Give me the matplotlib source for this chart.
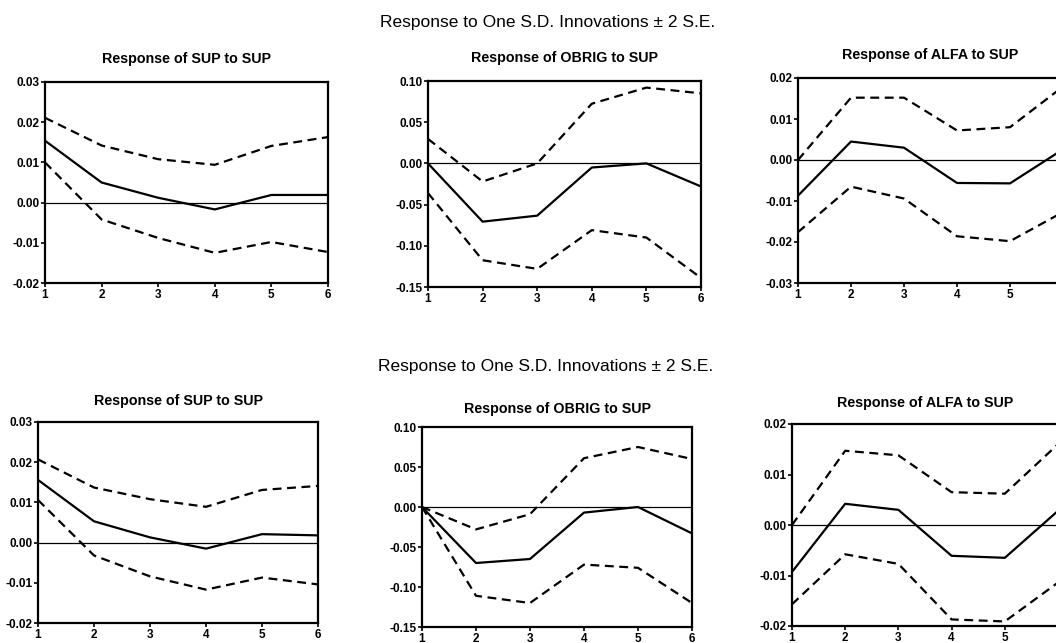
import numpy as np
import matplotlib
matplotlib.use('Agg')
import matplotlib.pyplot as plt

plt.rcParams['font.family'] = ['Liberation Sans', 'DejaVu Sans']
plt.rcParams['font.weight'] = 'bold'

periods = [1, 2, 3, 4, 5, 6]
suptitle = 'Response to One S.D. Innovations \u00b1 2 S.E.'
titles = ['Response of SUP to SUP', 'Response of OBRIG to SUP', 'Response of ALFA to SUP']

# top block
sup_a = [0.0154, 0.0050, 0.0012, -0.0017, 0.0019, 0.0019]
sup_a_hi = [0.0211, 0.0142, 0.0108, 0.0094, 0.0141, 0.0163]
sup_a_lo = [0.0100, -0.0042, -0.0088, -0.0125, -0.0098, -0.0123]
obrig_a = [0.0, -0.0707, -0.0634, -0.0050, 0.0, -0.0280]
obrig_a_hi = [0.0297, -0.0220, 0.0, 0.0724, 0.0920, 0.0850]
obrig_a_lo = [-0.0360, -0.1175, -0.1280, -0.0810, -0.0900, -0.1390]
alfa_a = [-0.0087, 0.0045, 0.0030, -0.0056, -0.0057, 0.0026]
alfa_a_hi = [0.0, 0.0152, 0.0152, 0.0072, 0.0080, 0.0179]
alfa_a_lo = [-0.0176, -0.0065, -0.0094, -0.0186, -0.0198, -0.0127]

# bottom block
sup_b = [0.0156, 0.0053, 0.0013, -0.0015, 0.0021, 0.0018]
sup_b_hi = [0.0207, 0.0137, 0.0108, 0.0089, 0.0131, 0.0141]
sup_b_lo = [0.0106, -0.0032, -0.0084, -0.0117, -0.0087, -0.0104]
obrig_b = [0.0, -0.0700, -0.0650, -0.0070, 0.0, -0.0330]
obrig_b_hi = [0.0, -0.0280, -0.0090, 0.0610, 0.0750, 0.0600]
obrig_b_lo = [0.0, -0.1110, -0.1200, -0.0720, -0.0760, -0.1200]
alfa_b = [-0.0093, 0.0042, 0.0030, -0.0061, -0.0065, 0.0028]
alfa_b_hi = [0.0, 0.0147, 0.0138, 0.0065, 0.0062, 0.0160]
alfa_b_lo = [-0.0157, -0.0058, -0.0077, -0.0187, -0.0191, -0.0114]

sup_ticks = [-0.02, -0.01, 0.0, 0.01, 0.02, 0.03]
obrig_ticks = [-0.15, -0.10, -0.05, 0.0, 0.05, 0.10]
alfa_a_ticks = [-0.03, -0.02, -0.01, 0.0, 0.01, 0.02]
alfa_b_ticks = [-0.02, -0.01, 0.0, 0.01, 0.02]

fig = plt.figure(figsize=(10.56, 6.43), dpi=100)

W, H = 1056.0, 643.0
def box(l, r, t, b):
    return [l / W, 1 - b / H, (r - l) / W, (b - t) / H]

# last flag: right-hand panels run off the page, so the "6" label is not shown
panels = [
    (box(45, 328, 82, 283), sup_a, sup_a_hi, sup_a_lo, sup_ticks, titles[0], 14, False),
    (box(428, 701, 81, 287), obrig_a, obrig_a_hi, obrig_a_lo, obrig_ticks, titles[1], 14, False),
    (box(798, 1063, 78, 283), alfa_a, alfa_a_hi, alfa_a_lo, alfa_a_ticks, titles[2], 14, True),
    (box(38, 318, 422, 623), sup_b, sup_b_hi, sup_b_lo, sup_ticks, titles[0], 12, False),
    (box(422, 692, 427, 627), obrig_b, obrig_b_hi, obrig_b_lo, obrig_ticks, titles[1], 10, False),
    (box(792, 1058, 424, 626), alfa_b, alfa_b_hi, alfa_b_lo, alfa_b_ticks, titles[2], 12, True),
]

for rect, mid, hi, lo, yt, title, pad, cut in panels:
    ax = fig.add_axes(rect)
    ax.plot(periods, mid, color='black', lw=1.6)
    ax.plot(periods, hi, color='black', lw=1.6, dashes=(4, 2.5))
    ax.plot(periods, lo, color='black', lw=1.6, dashes=(4, 2.5))
    ax.axhline(0, color='black', lw=0.9)
    ax.set_xlim(1, 6)
    ax.set_ylim(yt[0], yt[-1])
    ax.set_xticks(periods)
    xl = [str(p) for p in periods]
    if cut:
        xl[-1] = ''
    ax.set_xticklabels(xl)
    ax.set_yticks(yt)
    ax.set_yticklabels(['%.2f' % v for v in yt])
    ax.tick_params(labelsize=8.5, length=3, width=1.2, pad=1)
    for s in ax.spines.values():
        s.set_linewidth(1.6)
    ax.set_title(title, fontsize=10.3, fontweight='bold', pad=pad)

fig.text(548 / W, 1 - 22 / H, suptitle, ha='center', va='center', fontsize=12.5, fontweight='normal')
fig.text(546 / W, 1 - 367 / H, suptitle, ha='center', va='center', fontsize=12.5, fontweight='normal')

fig.savefig('out.png', dpi=100)
